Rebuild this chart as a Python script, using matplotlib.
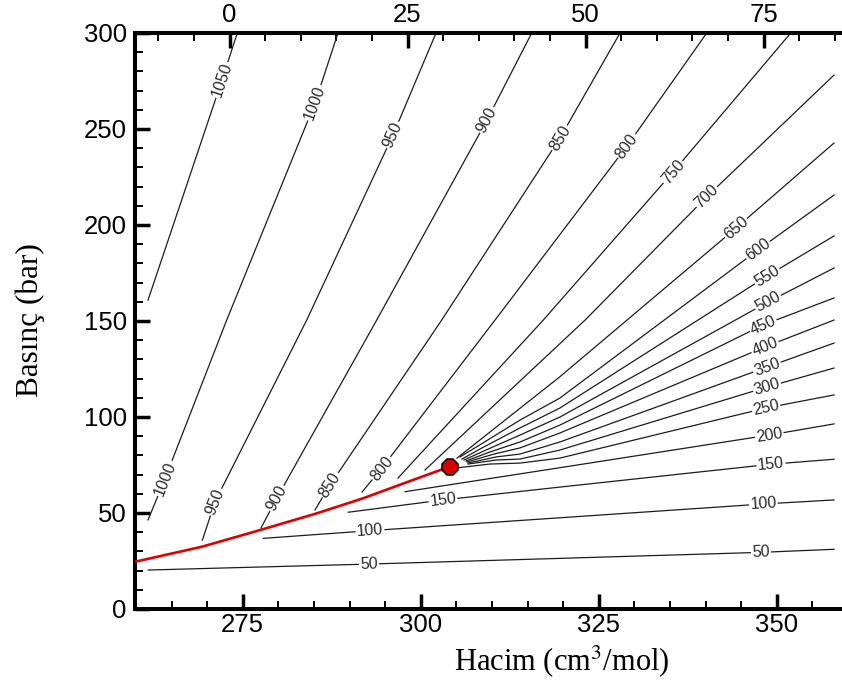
import numpy as np
import matplotlib
matplotlib.use("Agg")
import matplotlib.pyplot as plt
from matplotlib.ticker import MultipleLocator

plt.rcParams['font.family'] = ['Liberation Sans', 'DejaVu Sans']
plt.rcParams['mathtext.fontset'] = 'stix'

# ---------------- data (T in K on the bottom scale, P in bar) ----------------
# isolines (label value -> points)
iso1050_T = [261.70, 272.09, 274.24]
iso1050_P = [160.9, 275.5, 300.0]
iso1000_T = [261.70, 264.10, 272.75, 285.15, 288.38]
iso1000_P = [46.4, 68.0, 150.5, 263.5, 300.0]
iso950_T = [269.34, 271.11, 283.99, 296.11, 302.15]
iso950_P = [35.9, 55.9, 150.5, 246.9, 300.0]
iso900_T = [277.57, 279.78, 293.82, 309.31, 315.59]
iso900_P = [42.2, 57.7, 150.5, 254.7, 300.0]
iso850_T = [285.15, 287.26, 302.95, 319.56, 327.99]
iso850_P = [51.6, 64.6, 150.5, 245.3, 300.0]
iso800_T = [291.76, 294.52, 310.44, 328.97, 340.17]
iso800_P = [60.9, 73.3, 150.5, 241.1, 300.0]
iso750_T = [296.81, 317.22, 335.44, 351.97]
iso750_P = [68.2, 150.5, 227.6, 300.0]
iso700_T = [300.60, 323.09, 340.17, 358.05]
iso700_P = [72.4, 150.5, 214.7, 278.1]
iso650_T = [305.10, 319.56, 344.28, 358.05]
iso650_P = [78.6, 121.0, 198.4, 242.7]
iso600_T = [305.52, 308.05, 313.95, 319.56, 347.37, 358.05]
iso600_P = [79.2, 84.9, 98.4, 109.9, 187.0, 215.6]
iso550_T = [305.80, 308.61, 313.95, 319.56, 348.64, 358.05]
iso550_P = [78.1, 83.9, 94.3, 104.7, 173.4, 194.3]
iso500_T = [306.08, 309.17, 313.95, 319.56, 348.78, 358.05]
iso500_P = [77.6, 82.8, 90.6, 100.0, 159.9, 177.6]
iso450_T = [306.36, 309.73, 313.95, 319.56, 348.07, 358.05]
iso450_P = [77.1, 81.8, 87.0, 95.8, 147.9, 162.0]
iso400_T = [306.50, 310.29, 313.95, 319.56, 348.35, 358.05]
iso400_P = [76.6, 80.7, 83.9, 91.7, 136.5, 150.5]
iso350_T = [306.64, 310.58, 313.95, 319.56, 348.64, 358.05]
iso350_P = [76.0, 79.2, 80.7, 87.0, 126.0, 138.5]
iso300_T = [306.64, 310.58, 313.95, 319.56, 348.64, 358.05]
iso300_P = [75.5, 77.6, 78.1, 82.8, 115.6, 125.5]
iso250_T = [304.82, 309.73, 313.95, 319.56, 348.50, 358.05]
iso250_P = [73.4, 75.5, 76.0, 78.6, 104.7, 111.5]
iso200_T = [297.80, 319.56, 348.96, 358.05]
iso200_P = [61.1, 73.6, 90.6, 96.4]
iso150_T = [289.83, 303.13, 319.56, 349.20, 358.05]
iso150_P = [50.4, 56.8, 63.5, 75.4, 78.0]
iso100_T = [277.89, 292.88, 348.12, 358.05]
iso100_P = [36.8, 40.8, 54.7, 56.8]
iso50_T = [261.74, 292.74, 347.79, 358.05]
iso50_P = [20.3, 23.4, 29.5, 31.1]

# saturation curve and critical point
sat_T = [259.87, 269.24, 277.43, 285.39, 291.94, 298.03, 304.02]
sat_P = [24.6, 32.4, 41.1, 49.8, 57.7, 66.0, 74.1]
crit_T = 304.1
crit_P = 73.9

# label values and where (in T) each label sits on its line
iso_labels = ['1050', '1000', '950', '900', '850', '800', '750', '700', '650',
              '600', '550', '500', '450', '400', '350', '300', '250', '200',
              '150', '100', '50']
label_T = [[272.09], [264.10, 285.15], [271.11, 296.11], [279.78, 309.31],
           [287.26, 319.56], [294.52, 328.97], [335.44], [340.17], [344.28],
           [347.37], [348.64], [348.78], [348.07], [348.35], [348.64],
           [348.64], [348.50], [348.96], [303.13, 349.20], [292.88, 348.12],
           [292.74, 347.79]]

bottom_ticks = [275, 300, 325, 350]
top_ticks = [0, 25, 50, 75]
left_ticks = [0, 50, 100, 150, 200, 250, 300]

iso_T = [iso1050_T, iso1000_T, iso950_T, iso900_T, iso850_T, iso800_T, iso750_T,
         iso700_T, iso650_T, iso600_T, iso550_T, iso500_T, iso450_T, iso400_T,
         iso350_T, iso300_T, iso250_T, iso200_T, iso150_T, iso100_T, iso50_T]
iso_P = [iso1050_P, iso1000_P, iso950_P, iso900_P, iso850_P, iso800_P, iso750_P,
         iso700_P, iso650_P, iso600_P, iso550_P, iso500_P, iso450_P, iso400_P,
         iso350_P, iso300_P, iso250_P, iso200_P, iso150_P, iso100_P, iso50_P]

# ---------------- figure ----------------
W, H = 842, 686
fig = plt.figure(figsize=(W / 100, H / 100), dpi=100)
ax = fig.add_axes([135 / W, 1 - 609 / H, (W - 135) / W, (609 - 33) / H])
ax.set_xlim(259.87, 359.17)
ax.set_ylim(0, 300)

for T, P in zip(iso_T, iso_P):
    ax.plot(T, P, color='#1c1c1c', lw=0.9, zorder=2)

ax.plot(sat_T, sat_P, color='#e00000', lw=1.9, zorder=3, solid_capstyle='butt',
        solid_joinstyle='round')
ax.plot([crit_T], [crit_P], marker='8', ms=12, mfc='#d80000', mec='black',
        mew=1.1, zorder=5, linestyle='none')

fig.canvas.draw()
for lab, T, P, tlist in zip(iso_labels, iso_T, iso_P, label_T):
    T = np.asarray(T); P = np.asarray(P)
    for tl in tlist:
        pl = np.interp(tl, T, P)
        a = ax.transData.transform((tl - 0.4, np.interp(tl - 0.4, T, P)))
        b = ax.transData.transform((tl + 0.4, np.interp(tl + 0.4, T, P)))
        ang = np.degrees(np.arctan2(b[1] - a[1], b[0] - a[0]))
        ax.text(tl, pl, lab, rotation=ang, rotation_mode='anchor',
                ha='center', va='center', fontsize=11.5, color='#2a2a2a',
                zorder=4,
                bbox=dict(facecolor='white', edgecolor='none', pad=0.8))

# ticks and spines
ax.set_xticks(bottom_ticks)
ax.xaxis.set_minor_locator(MultipleLocator(5))
ax.set_yticks(left_ticks)
ax.yaxis.set_minor_locator(MultipleLocator(10))
ax.tick_params(which='major', direction='in', length=10.5, width=2.5,
               labelsize=18.5, colors='black')
ax.tick_params(which='minor', direction='in', length=6, width=1.4)
ax.tick_params(axis='x', pad=3)
ax.tick_params(axis='y', pad=6)
ax.tick_params(top=False, right=False, which='both')
for s in ['left', 'bottom', 'top']:
    ax.spines[s].set_linewidth(2.9)
ax.spines['right'].set_visible(False)

secax = ax.secondary_xaxis('top', functions=(lambda t: t - 273.15,
                                             lambda c: c + 273.15))
secax.set_xticks(top_ticks)
secax.xaxis.set_minor_locator(MultipleLocator(5))
secax.tick_params(which='major', direction='in', length=10.5, width=2.5,
                  labelsize=18.5, pad=4)
secax.tick_params(which='minor', direction='in', length=6, width=1.4)
secax.spines['top'].set_linewidth(2.9)

fig.text(562 / W, 1 - 661 / H, 'Hacim (cm$^3$/mol)', ha='center', va='center',
         fontsize=22, family='Liberation Serif')
fig.text(30 / W, 1 - 320 / H, 'Basınç (bar)', ha='center', va='center',
         rotation=90, fontsize=22.5, family='Liberation Serif')

fig.savefig('out.png', dpi=100)
